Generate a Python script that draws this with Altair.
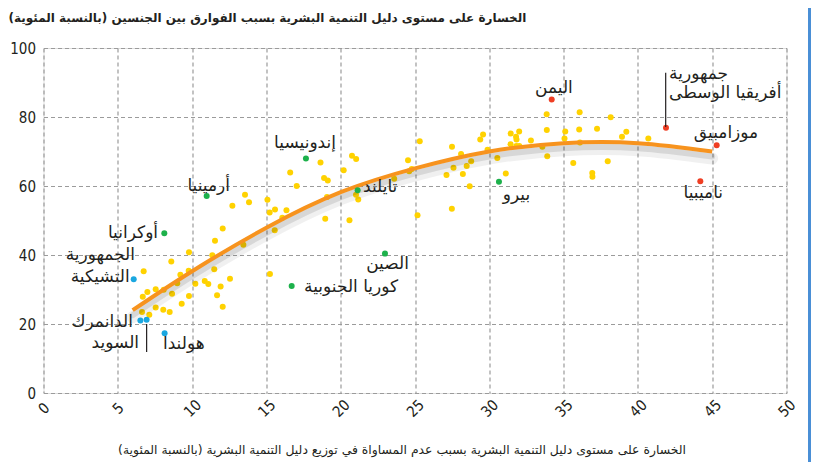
import altair as alt
import pandas as pd

# ---------------- data ----------------
other_x = [12.06, 11.54, 9.79, 8.60, 11.36, 11.49, 6.74, 9.77, 9.21, 9.00, 10.22, 10.85, 11.09,
           11.92, 7.55, 6.99, 8.09, 6.68, 8.65, 9.79, 11.68, 9.30, 12.06, 7.55, 8.06, 8.49, 6.63,
           7.12, 12.55, 13.45, 15.24, 15.56, 15.22, 15.58, 15.07, 13.56, 13.83, 12.71, 16.35,
           16.07, 18.64, 16.60, 18.88, 19.13, 17.04, 19.08, 18.96, 20.76, 21.04, 20.20, 24.53,
           24.61, 24.78, 27.12, 23.60, 21.03, 21.18, 20.59, 25.17, 25.32, 27.48, 33.86, 33.87,
           35.11, 35.06, 29.58, 29.39, 31.44, 32.01, 31.80, 31.83, 32.80, 31.43, 31.82, 32.02,
           33.57, 27.49, 29.88, 28.10, 30.54, 33.90, 28.78, 28.48, 27.59, 28.22, 31.11, 28.68,
           36.08, 38.17, 36.05, 37.25, 39.22, 38.93, 36.10, 40.70, 35.65, 37.97, 36.93, 36.94]
other_y = [47.7, 44.1, 40.8, 38.1, 39.9, 35.9, 35.3, 35.4, 34.3, 31.8, 31.7, 32.5, 31.6,
           30.9, 30.1, 29.3, 29.9, 27.9, 28.8, 28.1, 28.3, 25.9, 25.0, 24.8, 24.1, 23.5, 23.5,
           22.7, 33.1, 43.0, 34.5, 47.2, 52.3, 53.2, 56.0, 57.5, 55.3, 54.3, 53.0,
           50.8, 66.8, 63.9, 62.3, 61.6, 60.0, 56.8, 50.5, 68.8, 67.8, 64.6, 67.5,
           64.3, 64.9, 63.2, 62.1, 57.5, 56.1, 50.1, 51.5, 73.0, 53.4, 80.8, 76.2,
           75.8, 73.8, 74.9, 73.5, 75.2, 75.8, 74.3, 73.5, 73.2, 72.1, 71.6, 71.6,
           71.4, 71.4, 70.5, 69.3, 68.1, 68.6, 67.2, 65.8, 65.3, 63.5, 63.6, 59.9,
           81.4, 79.9, 76.4, 76.6, 75.7, 74.3, 72.6, 73.8, 66.7, 67.2, 63.8, 62.7]

green_x = [10.98, 8.13, 17.66, 21.14, 22.98, 16.70, 30.65]
green_y = [57.1, 46.3, 68.0, 58.8, 40.4, 31.0, 61.2]
blue_x = [6.07, 6.52, 6.94, 8.15]
blue_y = [33.0, 21.0, 21.2, 17.3]
red_x = [34.20, 41.89, 45.30, 44.20]
red_y = [85.1, 76.9, 71.8, 61.4]

trend_x = [6, 10, 15, 20, 25, 30, 35, 40, 45]
trend_y = [24.0, 35.3, 47.9, 58.2, 65.1, 70.0, 72.4, 72.4, 70.0]

label_text = ["أرمينيا", "أوكرانيا", "الجمهورية", "التشيكية", "الدانمرك", "السويد", "هولندا",
              "إندونيسيا", "تايلند", "الصين", "كوريا الجنوبية", "بيرو", "اليمن",
              "جمهورية", "أفريقيا الوسطى", "موزامبيق", "ناميبيا"]
label_x = [12.55, 7.71, 6.16, 5.80, 6.02, 6.43, 8.04, 17.6, 21.5, 23.15, 20.7, 31.83, 34.35,
           42.1, 42.1, 45.93, 44.4]
label_y = [60.0, 46.4, 40.0, 33.6, 20.6, 14.5, 14.2, 72.5, 59.7, 37.4, 30.8, 57.4, 88.3,
           92.4, 86.9, 75.3, 57.9]
label_align = ["right", "right", "right", "right", "right", "right", "left", "center", "left",
               "center", "center", "center", "center", "left", "left", "center", "center"]

leader_x = [6.94, 41.87]
leader_y1 = [20.0, 77.1]
leader_y2 = [11.9, 92.8]

title_text = "الخسارة على مستوى دليل التنمية البشرية بسبب الفوارق بين الجنسين (بالنسبة المئوية)"
xtitle_text = "الخسارة على مستوى دليل التنمية البشرية بسبب عدم المساواة في توزيع دليل التنمية البشرية  (بالنسبة المئوية)"

RLM = "\u200f"

# ---------------- chart ----------------
W, H = 743, 345
GRID = "#9b9b9b"
NUMFONT = "Liberation Sans Narrow, DejaVu Sans Condensed, Roboto"
ARFONT = "DejaVu Sans"

xs = alt.Scale(domain=[0, 50], nice=False)
ys = alt.Scale(domain=[0, 100], nice=False)

x_axis = alt.Axis(values=list(range(0, 51, 5)), grid=True, gridColor=GRID, gridDash=[4, 3],
                  gridWidth=1.2, ticks=False, domain=False, labelAngle=315, labelAlign="center",
                  labelBaseline="middle", labelPadding=15, labelFont=NUMFONT, labelFontSize=15,
                  labelColor="#231f20", title=RLM + xtitle_text + RLM, titleFont=ARFONT,
                  titleFontSize=12.4, titleFontWeight="normal", titleColor="#231f20",
                  titleX=358, titleY=56, titleBaseline="middle", titleAnchor="middle")
y_axis = alt.Axis(values=list(range(0, 101, 20)), grid=True, gridColor=GRID, gridDash=[4, 3],
                  gridWidth=1.2, ticks=False, domain=False, labelPadding=8, labelFont=NUMFONT,
                  labelFontSize=15, labelColor="#231f20", title=None)

df_other = pd.DataFrame({"x": other_x, "y": other_y})
df_green = pd.DataFrame({"x": green_x, "y": green_y})
df_blue = pd.DataFrame({"x": blue_x, "y": blue_y})
df_red = pd.DataFrame({"x": red_x, "y": red_y})
df_trend = pd.DataFrame({"x": trend_x, "y": trend_y})
df_lab = pd.DataFrame({"x": label_x, "y": label_y, "t": label_text, "a": label_align})
df_lead = pd.DataFrame({"x": leader_x, "y": leader_y1, "y2": leader_y2})

base_grid = alt.Chart(df_other).mark_point(opacity=0).encode(
    x=alt.X("x:Q", scale=xs, axis=x_axis),
    y=alt.Y("y:Q", scale=ys, axis=y_axis),
)

shadow1 = alt.Chart(df_trend).mark_line(interpolate="natural", color="#000000", opacity=0.06,
                                        strokeWidth=12, yOffset=7, strokeCap="round").encode(
    x=alt.X("x:Q", scale=xs), y=alt.Y("y:Q", scale=ys))
shadow2 = alt.Chart(df_trend).mark_line(interpolate="natural", color="#000000", opacity=0.10,
                                        strokeWidth=6, yOffset=5, strokeCap="round").encode(
    x=alt.X("x:Q", scale=xs), y=alt.Y("y:Q", scale=ys))

def dots(df, color):
    return alt.Chart(df).mark_circle(size=36, color=color, opacity=1).encode(
        x=alt.X("x:Q", scale=xs), y=alt.Y("y:Q", scale=ys))

trend = alt.Chart(df_trend).mark_line(interpolate="natural", color="#F7931E",
                                      strokeWidth=4).encode(
    x=alt.X("x:Q", scale=xs), y=alt.Y("y:Q", scale=ys))

leaders = alt.Chart(df_lead).mark_rule(color="#231f20", strokeWidth=1.2).encode(
    x=alt.X("x:Q", scale=xs), y=alt.Y("y:Q", scale=ys), y2="y2:Q")

def labels(align):
    return alt.Chart(df_lab[df_lab["a"] == align]).mark_text(
        align=align, baseline="middle", font=ARFONT, fontSize=17, color="#231f20").encode(
        x=alt.X("x:Q", scale=xs), y=alt.Y("y:Q", scale=ys), text="t:N")

title = alt.Chart(pd.DataFrame({"t": [RLM + title_text + RLM]})).mark_text(
    align="left", baseline="middle", font=ARFONT, fontSize=12, fontWeight="bold",
    color="#231f20").encode(x=alt.value(-35), y=alt.value(-30), text="t:N")

edge = alt.Chart(pd.DataFrame({"t": [0]})).mark_rule(color="#4a8fd6", strokeWidth=3).encode(
    x=alt.value(766), y=alt.value(-40), y2=alt.value(414))

chart = alt.layer(
    base_grid, dots(df_other, "#FFD200"), shadow1, shadow2, trend,
    dots(df_green, "#1DB14B"), dots(df_blue, "#1AA7E0"), dots(df_red, "#EF3E23"),
    leaders, labels("left"), labels("right"), labels("center"), title, edge
).properties(
    width=W, height=H, autosize=alt.AutoSizeParams(type="none"),
    padding={"left": 35.5, "top": 40, "right": 25.5, "bottom": 69}
).configure_view(stroke="#9a9a9a", strokeWidth=2).configure(background="white")

chart.save("out.html", embed_options={"renderer": "svg", "actions": False})
